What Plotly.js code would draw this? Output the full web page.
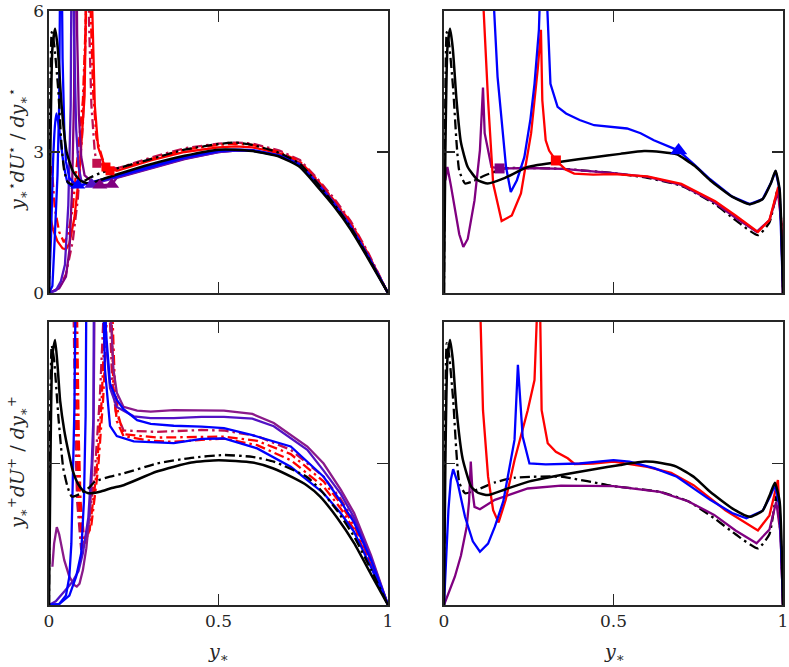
<!DOCTYPE html>
<html>
<head>
<meta charset="utf-8">
<script src="https://cdn.plot.ly/plotly-3.0.1.min.js"></script>
<style>body{margin:0;background:#fff;} #chart{width:789px;height:667px;}</style>
</head>
<body>
<div id="chart"></div>
<script>
// ---------- Top-left panel (y*dU*/dy*) ----------
const tlX_bkS = [0, 0.004, 0.01, 0.018, 0.026, 0.037, 0.052, 0.07, 0.09, 0.116, 0.15, 0.2, 0.3, 0.4, 0.5, 0.55, 0.6, 0.68, 0.74, 0.79, 0.84, 0.89, 0.94, 1];
const tlY_bkS = [0, 3.0, 5.2, 5.62, 5.2, 4.0, 3.0, 2.6, 2.4, 2.33, 2.4, 2.52, 2.74, 2.92, 3.05, 3.05, 3.02, 2.9, 2.68, 2.28, 1.85, 1.35, 0.75, 0];
const tlX_bkD = [0, 0.003, 0.008, 0.015, 0.027, 0.037, 0.045, 0.055, 0.07, 0.09, 0.12, 0.15, 0.2, 0.3, 0.4, 0.5, 0.55, 0.6, 0.68, 0.74, 0.79, 0.84, 0.89, 0.94, 1];
const tlY_bkD = [0, 3.5, 5.55, 5.3, 4.35, 3.14, 2.6, 2.36, 2.3, 2.33, 2.45, 2.55, 2.65, 2.85, 3.05, 3.17, 3.2, 3.15, 2.98, 2.75, 2.35, 1.9, 1.4, 0.78, 0];
const tlX_blA = [0, 0.006, 0.012, 0.018, 0.022, 0.03, 0.042, 0.055, 0.07, 0.09, 0.12, 0.2, 0.3, 0.4, 0.5, 0.55, 0.6, 0.68, 0.74, 0.79, 0.84, 0.89, 0.94, 1];
const tlY_blA = [0, 1.2, 2.8, 3.6, 3.82, 3.5, 2.8, 2.35, 2.25, 2.28, 2.35, 2.5, 2.7, 2.9, 3.03, 3.05, 3.04, 2.92, 2.72, 2.32, 1.88, 1.38, 0.78, 0];
const tlX_blB = [0, 0.01, 0.017, 0.025, 0.03, 0.035, 0.04, 0.045, 0.05, 0.06, 0.075, 0.091, 0.12, 0.2, 0.3, 0.4, 0.5, 0.55, 0.6, 0.68, 0.74, 0.79, 0.84, 0.89, 0.94, 1];
const tlY_blB = [0, 0.15, 1.17, 2.5, 4.0, 9, 5, 3.5, 2.8, 2.45, 2.33, 2.29, 2.34, 2.48, 2.68, 2.88, 3.02, 3.04, 3.03, 2.92, 2.72, 2.33, 1.9, 1.4, 0.8, 0];
const tlX_viC = [0, 0.02, 0.035, 0.047, 0.057, 0.064, 0.068, 0.074, 0.08, 0.087, 0.095, 0.11, 0.126, 0.2, 0.3, 0.4, 0.5, 0.55, 0.6, 0.68, 0.74, 0.79, 0.84, 0.89, 0.94, 1];
const tlY_viC = [0, 0.05, 0.25, 0.6, 1.87, 4.0, 9, 5.5, 3.5, 2.7, 2.4, 2.32, 2.31, 2.46, 2.66, 2.86, 3.0, 3.03, 3.03, 2.93, 2.74, 2.35, 1.92, 1.42, 0.8, 0];
const tlX_puD = [0, 0.03, 0.05, 0.06, 0.068, 0.074, 0.078, 0.083, 0.088, 0.095, 0.105, 0.13, 0.15, 0.185, 0.2, 0.3, 0.4, 0.5, 0.55, 0.6, 0.68, 0.74, 0.79, 0.84, 0.89, 0.94, 1];
const tlY_puD = [0, 0.1, 0.35, 0.9, 2.2, 4.2, 10, 5.5, 3.8, 2.9, 2.5, 2.35, 2.29, 2.31, 2.45, 2.65, 2.85, 3.0, 3.03, 3.03, 2.93, 2.75, 2.37, 1.94, 1.44, 0.82, 0];
const tlX_rdD = [0.004, 0.008, 0.017, 0.03, 0.044, 0.055, 0.07, 0.082, 0.1, 0.112, 0.118, 0.123, 0.13, 0.14, 0.165, 0.2, 0.3, 0.4, 0.5, 0.55, 0.6, 0.68, 0.74, 0.79, 0.84, 0.89, 0.94, 1];
const tlY_rdD = [2.5, 2.7, 1.8, 1.3, 1.08, 1.2, 1.8, 2.68, 4.1, 6.5, 12, 6, 4.3, 3.3, 2.68, 2.62, 2.85, 3.05, 3.15, 3.18, 3.15, 3.0, 2.8, 2.42, 1.98, 1.5, 0.85, 0];
const tlX_rdS = [0.004, 0.012, 0.025, 0.04, 0.05, 0.06, 0.075, 0.09, 0.105, 0.115, 0.121, 0.127, 0.135, 0.145, 0.165, 0.2, 0.3, 0.4, 0.5, 0.55, 0.6, 0.68, 0.74, 0.79, 0.84, 0.89, 0.94, 1];
const tlY_rdS = [1.6, 1.35, 1.1, 0.95, 0.93, 1.05, 1.6, 2.6, 4.2, 6.3, 12, 6.2, 4.0, 3.1, 2.68, 2.6, 2.82, 3.0, 3.1, 3.12, 3.1, 2.97, 2.77, 2.4, 1.96, 1.47, 0.83, 0];
const tlX_crD = [0, 0.03, 0.05, 0.07, 0.085, 0.1, 0.108, 0.113, 0.118, 0.125, 0.135, 0.141, 0.2, 0.3, 0.4, 0.5, 0.55, 0.6, 0.68, 0.74, 0.79, 0.84, 0.89, 0.94, 1];
const tlY_crD = [0, 0.1, 0.4, 1.1, 2.0, 3.6, 5.5, 12, 5.8, 4.0, 3.0, 2.76, 2.65, 2.88, 3.08, 3.18, 3.2, 3.18, 3.03, 2.83, 2.45, 2.02, 1.53, 0.88, 0];
const tlTriX = [0.085, 0.126, 0.15, 0.185];
const tlTriY = [2.29, 2.31, 2.29, 2.31];
const tlSqX = [0.141, 0.168, 0.18];
const tlSqY = [2.76, 2.68, 2.6];

// ---------- Top-right panel ----------
const trX_bkS = [0, 0.004, 0.01, 0.018, 0.026, 0.037, 0.05, 0.07, 0.1, 0.129, 0.18, 0.247, 0.35, 0.443, 0.52, 0.59, 0.64, 0.687, 0.74, 0.785, 0.85, 0.902, 0.94, 0.965, 0.978, 0.99, 1];
const trY_bkS = [0, 3.0, 5.2, 5.62, 5.2, 4.1, 3.2, 2.68, 2.4, 2.33, 2.45, 2.68, 2.8, 2.89, 2.96, 3.02, 3.0, 2.95, 2.7, 2.4, 2.05, 1.89, 2.0, 2.35, 2.6, 2.2, 0];
const trX_bkD = [0, 0.003, 0.008, 0.015, 0.027, 0.037, 0.045, 0.062, 0.08, 0.12, 0.18, 0.25, 0.35, 0.5, 0.6, 0.7, 0.797, 0.86, 0.926, 0.96, 0.985, 0.995, 1];
const trY_bkD = [0, 3.5, 5.55, 5.3, 4.35, 3.2, 2.6, 2.33, 2.36, 2.5, 2.65, 2.66, 2.64, 2.55, 2.45, 2.28, 1.9, 1.55, 1.23, 1.5, 2.22, 1.5, 0];
const trX_pu = [0.004, 0.01, 0.02, 0.032, 0.045, 0.057, 0.07, 0.09, 0.106, 0.115, 0.12, 0.14, 0.164, 0.25, 0.35, 0.5, 0.6, 0.7, 0.797, 0.86, 0.922, 0.96, 0.985, 0.995, 1];
const trY_pu = [2.4, 2.68, 2.3, 1.83, 1.25, 0.98, 1.15, 1.97, 3.04, 4.37, 3.4, 2.68, 2.65, 2.66, 2.64, 2.55, 2.47, 2.3, 1.93, 1.6, 1.3, 1.55, 2.15, 1.5, 0];
const trX_rd = [0.105, 0.117, 0.13, 0.145, 0.17, 0.2, 0.227, 0.257, 0.277, 0.286, 0.29, 0.3, 0.31, 0.33, 0.36, 0.384, 0.44, 0.5, 0.6, 0.7, 0.8, 0.86, 0.926, 0.96, 0.986, 0.995, 1];
const trY_rd = [10, 6.0, 4.1, 2.33, 1.53, 1.65, 2.12, 3.4, 4.8, 5.6, 4.1, 3.25, 3.03, 2.82, 2.62, 2.54, 2.52, 2.53, 2.48, 2.32, 1.95, 1.65, 1.3, 1.55, 2.26, 1.5, 0];
const trX_bl = [0.14, 0.148, 0.158, 0.169, 0.183, 0.197, 0.215, 0.237, 0.255, 0.267, 0.28, 0.29, 0.297, 0.305, 0.314, 0.335, 0.36, 0.4, 0.443, 0.54, 0.58, 0.619, 0.692, 0.74, 0.785, 0.85, 0.902, 0.94, 0.965, 0.978, 0.99, 1];
const trY_bl = [10, 6, 4.6, 3.74, 2.68, 2.15, 2.4, 2.89, 3.7, 4.45, 5.6, 8, 12, 6, 4.45, 3.96, 3.82, 3.68, 3.57, 3.5, 3.4, 3.25, 3.03, 2.72, 2.42, 2.05, 1.89, 2.0, 2.35, 2.6, 2.2, 0];
const trTriX = [0.692];
const trTriY = [3.03];
const trSqX = [0.164, 0.33];
const trSqY = [2.65, 2.82];

// ---------- Bottom-left panel (y+dU+/dy+) ----------
const blX_bkS = [0, 0.005, 0.01, 0.018, 0.025, 0.033, 0.045, 0.057, 0.07, 0.087, 0.1, 0.116, 0.15, 0.185, 0.22, 0.318, 0.42, 0.5, 0.6, 0.66, 0.72, 0.76, 0.8, 0.85, 0.9, 0.95, 1];
const blY_bkS = [0, 3.5, 5.3, 5.62, 5.1, 4.32, 3.7, 3.26, 2.85, 2.55, 2.43, 2.37, 2.4, 2.48, 2.54, 2.83, 3.02, 3.07, 3.02, 2.9, 2.7, 2.54, 2.3, 1.85, 1.31, 0.65, 0];
const blX_bkD = [0, 0.003, 0.008, 0.015, 0.028, 0.042, 0.055, 0.067, 0.09, 0.12, 0.136, 0.18, 0.22, 0.318, 0.42, 0.516, 0.6, 0.663, 0.76, 0.8, 0.85, 0.9, 0.95, 1];
const blY_bkD = [0, 3.8, 5.5, 5.2, 3.96, 2.9, 2.5, 2.3, 2.35, 2.5, 2.62, 2.72, 2.79, 3.0, 3.12, 3.18, 3.14, 3.04, 2.72, 2.45, 2.0, 1.45, 0.75, 0];
const blX_blA = [0, 0.03, 0.05, 0.06, 0.066, 0.071, 0.075, 0.079, 0.1, 0.15, 0.158, 0.165, 0.18, 0.2, 0.25, 0.3, 0.368, 0.45, 0.516, 0.614, 0.713, 0.81, 0.86, 0.9, 0.95, 1];
const blY_blA = [0, 0.02, 0.2, 0.6, 1.3, 2.6, 4.2, 7, 30, 30, 7, 5, 3.8, 3.58, 3.47, 3.45, 3.43, 3.52, 3.53, 3.32, 2.93, 2.37, 1.95, 1.55, 0.8, 0];
const blX_blB = [0, 0.03, 0.06, 0.08, 0.095, 0.103, 0.108, 0.112, 0.13, 0.16, 0.168, 0.18, 0.2, 0.22, 0.26, 0.3, 0.368, 0.45, 0.516, 0.6, 0.713, 0.81, 0.86, 0.9, 0.95, 1];
const blY_blB = [0, 0.02, 0.2, 0.6, 1.1, 2.2, 4.0, 7, 30, 8, 5.8, 4.7, 4.35, 4.15, 3.92, 3.84, 3.8, 3.78, 3.75, 3.6, 3.36, 2.72, 2.2, 1.75, 0.95, 0];
const blX_pu = [0.01, 0.015, 0.023, 0.03, 0.045, 0.06, 0.075, 0.082, 0.09, 0.1, 0.11, 0.121, 0.131, 0.136, 0.16, 0.18, 0.19, 0.2, 0.22, 0.26, 0.3, 0.368, 0.45, 0.516, 0.6, 0.663, 0.762, 0.81, 0.861, 0.9, 0.95, 1];
const blY_pu = [0.81, 1.3, 1.65, 1.5, 0.95, 0.6, 0.42, 0.39, 0.45, 0.74, 1.2, 2.01, 3.43, 6, 30, 6.5, 5.0, 4.5, 4.2, 4.12, 4.1, 4.13, 4.12, 4.12, 4.05, 3.86, 3.36, 3.0, 2.44, 1.95, 1.05, 0];
const blX_vi = [0, 0.02, 0.047, 0.07, 0.087, 0.1, 0.116, 0.126, 0.131, 0.135, 0.145, 0.16, 0.168, 0.18, 0.2, 0.25, 0.3, 0.368, 0.45, 0.516, 0.6, 0.663, 0.762, 0.81, 0.861, 0.9, 0.95, 1];
const blY_vi = [0, 0.08, 0.3, 0.5, 0.72, 1.1, 1.85, 3.0, 3.96, 6, 30, 8, 5.6, 4.6, 4.2, 4.0, 3.96, 3.96, 3.99, 3.99, 3.95, 3.79, 3.29, 2.85, 2.35, 1.85, 1.0, 0];
const blX_rd1 = [0.06, 0.072, 0.078, 0.083, 0.088, 0.1, 0.12, 0.14, 0.155, 0.165, 0.175, 0.185, 0.19, 0.2, 0.22, 0.3, 0.368, 0.45, 0.516, 0.614, 0.713, 0.81, 0.86, 0.9, 0.95, 1];
const blY_rd1 = [30, 12, 6, 3.5, 2.2, 1.2, 1.6, 2.8, 4.3, 6, 30, 6, 4.6, 3.9, 3.58, 3.48, 3.46, 3.5, 3.53, 3.39, 3.07, 2.51, 2.05, 1.6, 0.85, 0];
const blX_rd2 = [0.065, 0.077, 0.083, 0.088, 0.093, 0.105, 0.125, 0.145, 0.16, 0.17, 0.178, 0.188, 0.194, 0.205, 0.22, 0.318, 0.45, 0.516, 0.614, 0.713, 0.81, 0.86, 0.9, 0.95, 1];
const blY_rd2 = [30, 12, 6, 3.5, 2.2, 1.3, 1.7, 2.9, 4.4, 6, 30, 6, 4.7, 4.0, 3.62, 3.55, 3.56, 3.57, 3.48, 3.2, 2.62, 2.15, 1.68, 0.9, 0];
const blX_cr = [0.055, 0.068, 0.073, 0.078, 0.083, 0.095, 0.115, 0.135, 0.15, 0.16, 0.17, 0.18, 0.186, 0.197, 0.22, 0.318, 0.45, 0.516, 0.614, 0.713, 0.81, 0.86, 0.9, 0.95, 1];
const blY_cr = [30, 12, 6, 3.5, 2.2, 1.17, 1.6, 2.8, 4.4, 6, 30, 6, 4.8, 4.1, 3.7, 3.67, 3.71, 3.7, 3.58, 3.29, 2.72, 2.25, 1.78, 0.95, 0];

// ---------- Bottom-right panel ----------
const brX_bkS = [0, 0.004, 0.01, 0.018, 0.026, 0.037, 0.055, 0.08, 0.1, 0.13, 0.18, 0.247, 0.35, 0.443, 0.52, 0.594, 0.64, 0.687, 0.74, 0.785, 0.85, 0.902, 0.94, 0.962, 0.976, 0.99, 1];
const brY_bkS = [0, 3.0, 5.2, 5.62, 5.2, 4.13, 3.1, 2.51, 2.38, 2.33, 2.45, 2.61, 2.76, 2.88, 2.97, 3.04, 3.01, 2.93, 2.7, 2.4, 2.05, 1.87, 2.0, 2.35, 2.59, 2.2, 0];
const brX_bkD = [0, 0.003, 0.008, 0.015, 0.027, 0.037, 0.045, 0.062, 0.1, 0.15, 0.21, 0.345, 0.5, 0.637, 0.72, 0.797, 0.86, 0.926, 0.96, 0.98, 0.993, 1];
const brY_bkD = [0, 3.5, 5.55, 5.3, 4.35, 3.2, 2.6, 2.37, 2.45, 2.6, 2.7, 2.72, 2.52, 2.4, 2.2, 1.84, 1.5, 1.2, 1.5, 2.3, 1.5, 0];
const brX_pu = [0, 0.015, 0.032, 0.05, 0.067, 0.074, 0.079, 0.084, 0.09, 0.106, 0.15, 0.247, 0.345, 0.5, 0.637, 0.72, 0.797, 0.86, 0.922, 0.96, 0.98, 0.993, 1];
const brY_pu = [0, 0.3, 0.6, 1.05, 1.66, 2.2, 3.04, 2.4, 2.08, 2.03, 2.23, 2.47, 2.53, 2.52, 2.4, 2.2, 1.91, 1.58, 1.31, 1.6, 2.19, 1.5, 0];
const brX_bl = [0, 0.006, 0.013, 0.02, 0.027, 0.04, 0.062, 0.085, 0.106, 0.13, 0.15, 0.175, 0.189, 0.208, 0.218, 0.225, 0.232, 0.252, 0.3, 0.4, 0.5, 0.547, 0.62, 0.687, 0.785, 0.85, 0.892, 0.94, 0.962, 0.976, 0.99, 1];
const brY_bl = [0, 1.0, 2.01, 2.65, 2.88, 2.6, 1.87, 1.35, 1.13, 1.3, 1.66, 2.2, 2.72, 3.5, 5.09, 4.2, 3.57, 3.0, 2.98, 3.0, 3.07, 3.04, 2.9, 2.72, 2.23, 1.95, 1.84, 2.0, 2.3, 2.54, 2.1, 0];
const brX_rd = [0.1, 0.108, 0.115, 0.13, 0.145, 0.161, 0.182, 0.208, 0.247, 0.267, 0.276, 0.28, 0.283, 0.288, 0.306, 0.33, 0.365, 0.385, 0.44, 0.5, 0.6, 0.67, 0.736, 0.83, 0.926, 0.96, 0.985, 0.993, 1];
const brY_rd = [10, 6, 4.13, 2.72, 2.01, 1.75, 2.23, 3.07, 4.13, 4.77, 6.5, 10, 6.5, 4.13, 3.43, 3.25, 3.11, 2.99, 3.0, 3.04, 2.93, 2.8, 2.54, 2.01, 1.58, 1.9, 2.65, 1.5, 0];

// ---------- Tick labels ----------
const xTickVals = [0, 0.5, 1];
const xTickText = ['0', '0.5', '1'];
const yTickVals = [0, 3, 6];
const yTickText = ['0', '3', '6'];

const BLUE = '#0000ff', VIOLET = '#5212c4', PURPLE = '#800080', PURPLE2 = '#8a1a8a',
      RED = '#ff0000', CRIMSON = '#c0104e', BLACK = '#000000';
const DD = '10px,4px,2.5px,4px';
const LW = 2.3;

function L(xa, ya, x, y, color, dash, width, smooth) {
  const ln = {color: color, width: width || LW, dash: dash || 'solid'};
  if (smooth) { ln.shape = 'spline'; ln.smoothing = smooth; }
  return {x: x, y: y, xaxis: xa, yaxis: ya, type: 'scatter', mode: 'lines', hoverinfo: 'skip', line: ln};
}
function M(xa, ya, x, y, colors, symbol, size) {
  return {x: x, y: y, xaxis: xa, yaxis: ya, type: 'scatter', mode: 'markers', hoverinfo: 'skip',
          cliponaxis: false, marker: {color: colors, symbol: symbol, size: size, line: {width: 0}}};
}

const data = [
  // TL
  L('x','y', tlX_crD, tlY_crD, CRIMSON, DD),
  L('x','y', tlX_rdS, tlY_rdS, RED),
  L('x','y', tlX_rdD, tlY_rdD, RED, DD),
  L('x','y', tlX_puD, tlY_puD, PURPLE),
  L('x','y', tlX_viC, tlY_viC, VIOLET),
  L('x','y', tlX_blB, tlY_blB, BLUE),
  L('x','y', tlX_blA, tlY_blA, BLUE, 'solid', LW, 0.5),
  L('x','y', tlX_bkD, tlY_bkD, BLACK, DD, 2.3, 0.5),
  L('x','y', tlX_bkS, tlY_bkS, BLACK, 'solid', 2.5, 0.5),
  M('x','y', tlTriX, tlTriY, [BLUE, VIOLET, PURPLE, PURPLE], 'triangle-up', 13),
  M('x','y', tlSqX, tlSqY, [CRIMSON, RED, RED], 'square', 9),
  // TR
  L('x2','y2', trX_bkD, trY_bkD, BLACK, DD, 2.3, 0.5),
  L('x2','y2', trX_pu, trY_pu, PURPLE),
  L('x2','y2', trX_rd, trY_rd, RED),
  L('x2','y2', trX_bl, trY_bl, BLUE),
  L('x2','y2', trX_bkS, trY_bkS, BLACK, 'solid', 2.5, 0.5),
  M('x2','y2', trTriX, trTriY, [BLUE], 'triangle-up', 15),
  M('x2','y2', trSqX, trSqY, [PURPLE, RED], 'square', 10),
  // BL
  L('x3','y3', blX_cr, blY_cr, CRIMSON, DD),
  L('x3','y3', blX_rd2, blY_rd2, RED, DD),
  L('x3','y3', blX_rd1, blY_rd1, RED, DD),
  L('x3','y3', blX_pu, blY_pu, PURPLE2),
  L('x3','y3', blX_vi, blY_vi, VIOLET),
  L('x3','y3', blX_blB, blY_blB, BLUE),
  L('x3','y3', blX_blA, blY_blA, BLUE),
  L('x3','y3', blX_bkD, blY_bkD, BLACK, DD, 2.3, 0.5),
  L('x3','y3', blX_bkS, blY_bkS, BLACK, 'solid', 2.5, 0.5),
  // BR
  L('x4','y4', brX_bkD, brY_bkD, BLACK, DD, 2.3, 0.5),
  L('x4','y4', brX_pu, brY_pu, PURPLE),
  L('x4','y4', brX_rd, brY_rd, RED),
  L('x4','y4', brX_bl, brY_bl, BLUE),
  L('x4','y4', brX_bkS, brY_bkS, BLACK, 'solid', 2.5, 0.5)
];

const FRAME = '#262626';
const FONT = 'DejaVu Serif';
function axX(domain, anchor, labels) {
  return {domain: domain, anchor: anchor, range: [0, 1], tickvals: xTickVals, ticktext: xTickText,
          showticklabels: labels, ticks: 'inside', ticklen: 11, tickwidth: 1.5, tickcolor: FRAME,
          showline: true, linewidth: 1.6, linecolor: FRAME, mirror: 'ticks', showgrid: false, zeroline: false,
          ticklabeloverflow: 'allow', automargin: false,
          tickfont: {family: FONT, size: 17, color: FRAME}, fixedrange: true};
}
function axY(domain, anchor, labels) {
  return {domain: domain, anchor: anchor, range: [0, 6], tickvals: yTickVals, ticktext: yTickText,
          showticklabels: labels, ticks: 'inside', ticklen: 11, tickwidth: 1.5, tickcolor: FRAME,
          showline: true, linewidth: 1.6, linecolor: FRAME, mirror: 'ticks', showgrid: false, zeroline: false,
          ticklabeloverflow: 'allow', automargin: false,
          tickfont: {family: FONT, size: 17, color: FRAME}, fixedrange: true};
}
const W = 789, H = 667;
const dxL = [49 / W, 388 / W], dxR = [444 / W, 783 / W];
const dyT = [1 - 293 / H, 1 - 11 / H], dyB = [1 - 605 / H, 1 - 322 / H];

const titleFont = {family: FONT, size: 19, color: FRAME};
const layout = {
  width: W, height: H, margin: {l: 0, r: 0, t: 0, b: 0},
  paper_bgcolor: '#ffffff', plot_bgcolor: '#ffffff', showlegend: false,
  font: {family: FONT, color: FRAME},
  xaxis: axX(dxL, 'y', false), yaxis: axY(dyT, 'x', true),
  xaxis2: axX(dxR, 'y2', false), yaxis2: axY(dyT, 'x2', false),
  xaxis3: axX(dxL, 'y3', true), yaxis3: axY(dyB, 'x3', false),
  xaxis4: axX(dxR, 'y4', true), yaxis4: axY(dyB, 'x4', false),
  annotations: [
    {xref: 'paper', yref: 'paper', x: 17 / W, y: 1 - 150 / H, textangle: -90, showarrow: false,
     xanchor: 'center', yanchor: 'middle', font: titleFont,
     text: '<i>y</i><sub>∗</sub><sup>⋆</sup><i>dU</i><sup>⋆</sup> / <i>dy</i><sub>∗</sub><sup>⋆</sup>'},
    {xref: 'paper', yref: 'paper', x: 17 / W, y: 1 - 463 / H, textangle: -90, showarrow: false,
     xanchor: 'center', yanchor: 'middle', font: titleFont,
     text: '<i>y</i><sub>∗</sub><sup>+</sup><i>dU</i><sup>+</sup> / <i>dy</i><sub>∗</sub><sup>+</sup>'},
    {xref: 'paper', yref: 'paper', x: 218 / W, y: 1 - 652 / H, showarrow: false,
     xanchor: 'center', yanchor: 'middle', font: titleFont, text: '<i>y</i><sub>∗</sub>'},
    {xref: 'paper', yref: 'paper', x: 614 / W, y: 1 - 652 / H, showarrow: false,
     xanchor: 'center', yanchor: 'middle', font: titleFont, text: '<i>y</i><sub>∗</sub>'}
  ]
};

Plotly.newPlot('chart', data, layout, {displayModeBar: false, staticPlot: true});
</script>
</body>
</html>
